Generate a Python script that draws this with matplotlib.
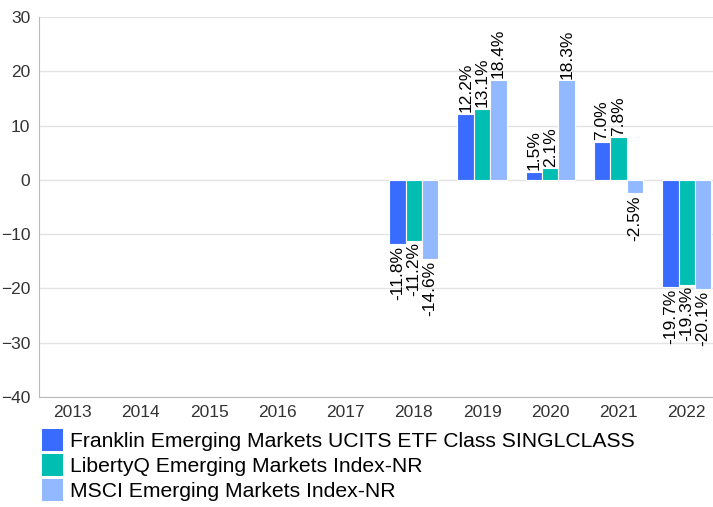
import numpy as np
import matplotlib.pyplot as plt
from matplotlib.patches import Patch

plt.rcParams['font.family'] = ['Liberation Sans', 'DejaVu Sans']

years = ["2013", "2014", "2015", "2016", "2017", "2018", "2019", "2020", "2021", "2022"]
series_names = [
    "Franklin Emerging Markets UCITS ETF Class SINGLCLASS",
    "LibertyQ Emerging Markets Index-NR",
    "MSCI Emerging Markets Index-NR",
]
franklin = [None, None, None, None, None, -11.8, 12.2, 1.5, 7.0, -19.7]
libertyq = [None, None, None, None, None, -11.2, 13.1, 2.1, 7.8, -19.3]
msci = [None, None, None, None, None, -14.6, 18.4, 18.3, -2.5, -20.1]
colors = ["#3A6BFF", "#00BFB2", "#92B8FF"]

fig = plt.figure(figsize=(7.13, 5.07), dpi=100)
# plot area runs slightly past the right edge of the image
ax = fig.add_axes([0.054, 0.217, 0.957, 0.7495])

x = np.arange(len(years))
w = 0.24
for i, (vals, c) in enumerate(zip([franklin, libertyq, msci], colors)):
    for xi, v in zip(x, vals):
        if v is None:
            continue
        pos = xi + (i - 1) * w
        ax.bar(pos, v, width=w, color=c, edgecolor="white", linewidth=0.8, zorder=3)
        if v >= 0:
            ax.text(pos, v + 0.3, f"{v:.1f}%", rotation=90, ha="center", va="bottom", fontsize=12.5)
        else:
            ax.text(pos, v - 0.3, f"{v:.1f}%", rotation=90, ha="center", va="top", fontsize=12.5)

ax.set_xlim(-0.5, len(years) - 0.5)
ax.set_ylim(-40, 30)
ax.set_yticks(range(-40, 31, 10))
ax.set_xticks(x)
ax.set_xticklabels(years)
ax.tick_params(length=0, labelsize=12.5, colors="#333333", pad=6)
ax.yaxis.grid(True, color="#e3e3e3", linewidth=1, zorder=0)
for s in ["top", "right"]:
    ax.spines[s].set_visible(False)
for s in ["left", "bottom"]:
    ax.spines[s].set_color("#bbbbbb")

handles = [Patch(facecolor=c, edgecolor="none") for c in colors]
fig.legend(handles, series_names, loc="upper left", bbox_to_anchor=(0.047, 0.17),
           frameon=False, fontsize=15.2, handlelength=1.0, handleheight=1.2,
           handletextpad=0.33, labelspacing=0.15, borderaxespad=0)

fig.savefig("out.png", dpi=100)
